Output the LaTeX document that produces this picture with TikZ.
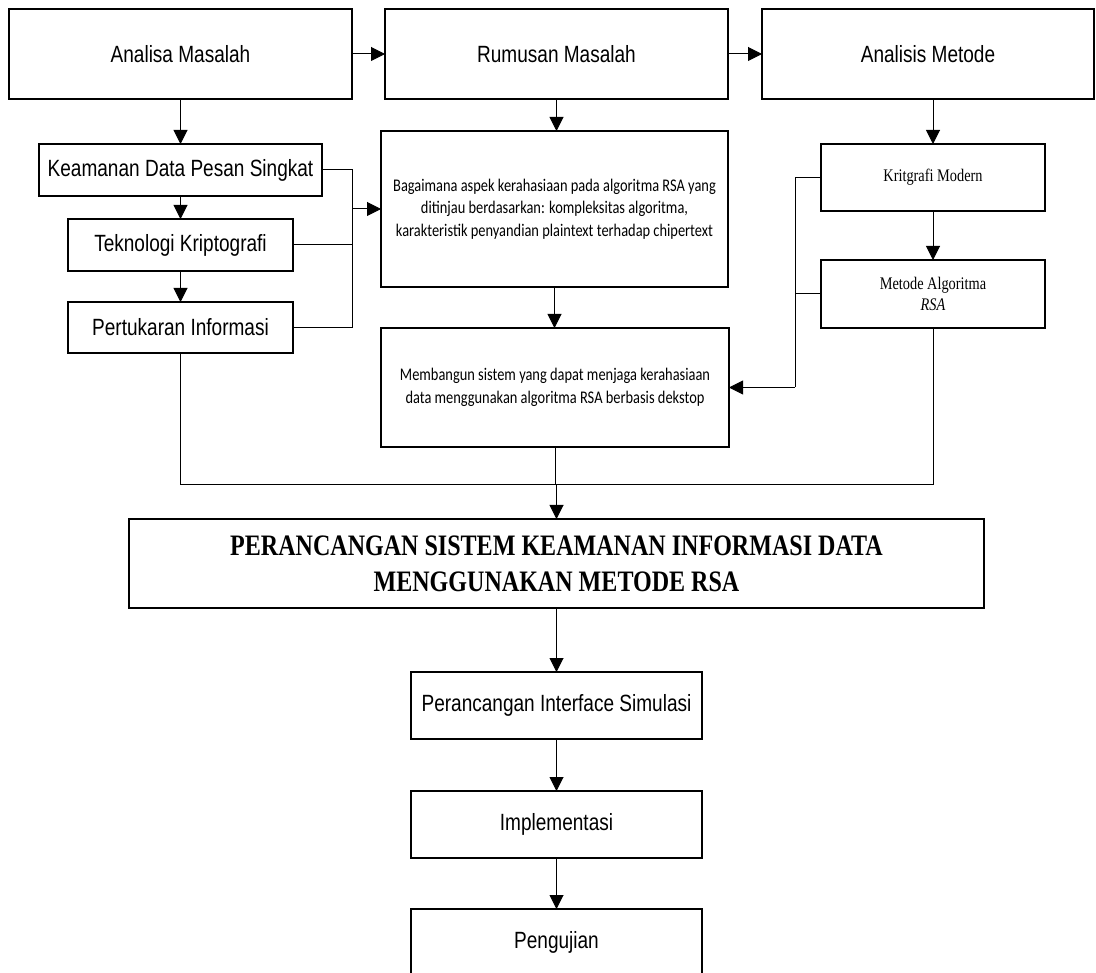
\documentclass[tikz,border=0pt]{standalone}
\usepackage{fontspec}
\usepackage{tikz}
\usetikzlibrary{arrows.meta}

\newfontfamily\arialfont[FakeStretch=0.81]{Liberation Sans}
\newfontfamily\calfont[FakeStretch=0.81]{Carlito}
\newfontfamily\timesfont[FakeStretch=0.81]{Liberation Serif}

\tikzset{
  kotak/.style={draw, line width=1.2pt, inner sep=0pt, outer sep=0pt, align=center},
  teksA/.style={font=\arialfont\fontsize{23.5}{28}\selectfont},
  teksC/.style={font=\calfont\fontsize{17.8}{22.3}\selectfont},
  teksT/.style={font=\timesfont\fontsize{17.7}{21.7}\selectfont},
  garis/.style={line width=1pt},
  panah/.style={line width=1pt, -{Triangle[length=14pt, width=14pt]}}
}

\begin{document}
\begin{tikzpicture}[x=1pt, y=-1pt]
    \useasboundingbox (0,0) rectangle (1096,973);

    % Top row
    \node[kotak, teksA, minimum width=343pt, minimum height=90pt] (analisa) at (180.5,54) {Analisa Masalah};
    \node[kotak, teksA, minimum width=343pt, minimum height=90pt] (rumusan) at (556.5,54) {Rumusan Masalah};
    \node[kotak, teksA, minimum width=332pt, minimum height=90pt] (analisis) at (928,54) {Analisis Metode};

    % Left column
    \node[kotak, teksA, minimum width=283pt, minimum height=52pt] (keamanan) at (180.5,170) {Keamanan Data Pesan Singkat};
    \node[kotak, teksA, minimum width=225pt, minimum height=52pt] (teknologi) at (180.5,245) {Teknologi Kriptografi};
    \node[kotak, teksA, minimum width=225pt, minimum height=51pt] (pertukaran) at (180.5,327.5) {Pertukaran Informasi};

    % Middle column
    \node[kotak, teksC, minimum width=347pt, minimum height=156pt] (bagaimana) at (554.5,209)
        {Bagaimana aspek kerahasiaan pada algoritma RSA yang\\ditinjau berdasarkan: kompleksitas algoritma,\\karakteristik penyandian plaintext terhadap chipertext};
    \node[kotak, teksC, minimum width=348pt, minimum height=119pt] (membangun) at (555,387.5)
        {Membangun sistem yang dapat menjaga kerahasiaan\\data menggunakan algoritma RSA berbasis dekstop};

    % Right column
    \node[kotak, teksT, minimum width=224pt, minimum height=67pt] (kritgrafi) at (933,177.5) {Kritgrafi Modern};
    \node[kotak, teksT, minimum width=224pt, minimum height=68pt] (rsa) at (933,294) {Metode Algoritma\\\textit{RSA}};

    % Bottom flow
    \node[kotak, font=\timesfont\bfseries\fontsize{29.7}{36}\selectfont, minimum width=855pt, minimum height=89pt] (judul) at (556.5,563.5)
        {PERANCANGAN SISTEM KEAMANAN INFORMASI DATA\\MENGGUNAKAN METODE RSA};
    \node[kotak, teksA, minimum width=291pt, minimum height=67pt] (interface) at (556.5,705.5) {Perancangan Interface Simulasi};
    \node[kotak, teksA, minimum width=291pt, minimum height=67pt] (implementasi) at (556.5,824.5) {Implementasi};
    \node[kotak, teksA, minimum width=291pt, minimum height=67pt] (pengujian) at (556.5,942.5) {Pengujian};

    \coordinate (kanan) at (795,387.5);
    \coordinate (kumpul) at (555,485);

    % Arrows along the top
    \draw[panah] (analisa.east) -- (rumusan.west);
    \draw[panah] (rumusan.east) -- (analisis.west);

    % Left side
    \draw[panah] (analisa.south) -- (keamanan.north);
    \draw[panah] (keamanan.south) -- (teknologi.north);
    \draw[panah] (teknologi.south) -- (pertukaran.north);
    \draw[garis] (keamanan.east) -- (keamanan.east -| analisa.east) -- (pertukaran.east -| analisa.east) -- (pertukaran.east);
    \draw[garis] (teknologi.east) -- (teknologi.east -| analisa.east);
    \draw[panah] (bagaimana.west -| analisa.east) -- (bagaimana.west);

    % Middle
    \draw[panah] (rumusan.south) -- (rumusan.south |- bagaimana.north);
    \draw[panah] (bagaimana.south) -- (bagaimana.south |- membangun.north);

    % Right side
    \draw[panah] (kritgrafi.north |- analisis.south) -- (kritgrafi.north);
    \draw[panah] (kritgrafi.south) -- (rsa.north);
    \draw[garis] (kritgrafi.west) -| (kanan);
    \draw[garis] (rsa.west) -- (rsa.west -| kanan);
    \draw[panah] (kanan) -- (membangun.east);

    % Collector into the main box
    \draw[garis] (pertukaran.south) -- (pertukaran.south |- kumpul) -- (rsa.south |- kumpul) -- (rsa.south);
    \draw[panah] (membangun.south) -- (membangun.south |- kumpul) -| (judul.north);

    % Final steps
    \draw[panah] (judul.south) -- (interface.north);
    \draw[panah] (interface.south) -- (implementasi.north);
    \draw[panah] (implementasi.south) -- (pengujian.north);
\end{tikzpicture}
\end{document}
